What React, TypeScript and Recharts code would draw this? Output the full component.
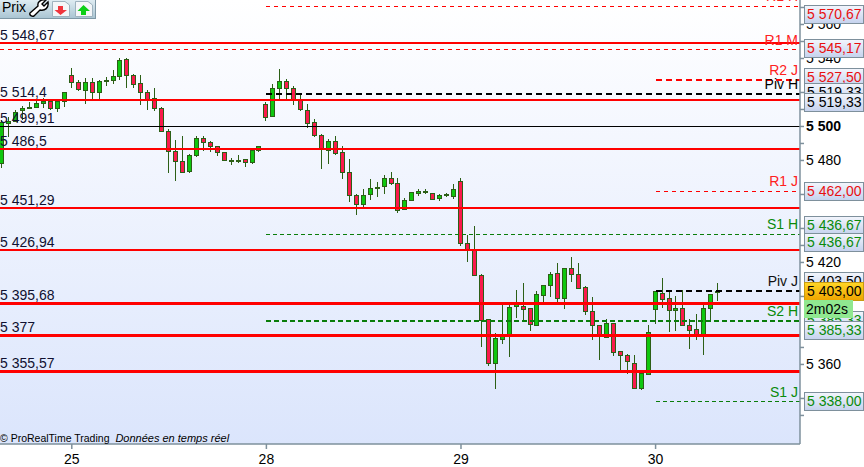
import { Bar, CartesianGrid, ComposedChart, ReferenceLine, XAxis, YAxis } from "recharts";

const OPENS = [5478.5,5501.6,5502.9,5509.4,5510.6,5511.2,5513.5,5514.7,5510.6,5514.7,5530,5525.9,5521.2,5525.9,5520,5526.2,5527.1,5529.4,5539.4,5530,5525.3,5520,5516.5,5510.6,5497.1,5485.3,5479.4,5473.5,5482.9,5492.9,5490.6,5488.2,5484.7,5479.4,5479.4,5480.6,5478.8,5485.9,
  5513.1,5505.8,5522.2,5526.6,5522.5,5515.2,5509.5,5502.5,5494.8,5485.8,5491.3,5484.8,5473.1,5459.5,5454,5459.9,5463.4,5464.6,5469.5,5466.6,5451.3,5456.4,5460.5,5461.1,5460.7,5457.5,5459.3,5458.7,
  5467.8,5431.2,5427.4,5412.5,5386.6,5360.5,5374.8,5377.2,5394.2,5394.2,5393.1,5382.8,5400.5,5406.4,5413.6,5398.7,5416.6,5413.1,5405.4,5391.3,5383.1,5375.8,5384.2,5367.8,5365.4,5360.7,5345.8,5354.2,
  5392.2,5401.9,5398.9,5391.6,5393.1,5383.1,5380.7,5377.2,5392.8,5402.2];
const HIGHS = [5503.8,5505.6,5509.7,5512.1,5514.4,5514.7,5516.8,5515.6,5516.2,5520.3,5534.4,5527.4,5528.8,5528.8,5527.6,5529.1,5533.5,5540.5,5540,5530.6,5530,5521.5,5522.9,5511.2,5498.8,5492.1,5494.1,5483.8,5494.1,5494.1,5491.5,5488.8,5485,5481.2,5483.2,5480.9,5486.2,5488.5,
  5514.4,5525,5533.8,5527.9,5523.8,5518.5,5513.2,5504.4,5495.6,5492.6,5494.4,5488.5,5480.9,5460.3,5463.2,5469.1,5467.5,5471.5,5473.2,5469.7,5457.9,5461.5,5463.2,5463.2,5460.9,5460.3,5460.9,5466.2,
  5469.7,5436.2,5441.5,5413.2,5386.8,5378.5,5395,5395,5403.8,5407.8,5393.2,5403.1,5406.8,5414.4,5419.5,5416.8,5423.1,5419.5,5406.2,5399.7,5383.2,5386.8,5384.4,5367.9,5366,5365.4,5356.8,5383.2,
  5403.2,5410.9,5403.2,5400.3,5403.8,5386.8,5389.7,5395,5401.5,5407.9];
const LOWS = [5475.6,5493.8,5502.6,5503.8,5510.6,5510.6,5510.9,5509.4,5508.8,5511.2,5522.9,5520.6,5513.5,5515.3,5515.3,5523.8,5525,5527.4,5522.4,5522.9,5512.6,5509.4,5509.1,5496.5,5472.9,5468.2,5472.6,5472.9,5481.8,5485.6,5484.7,5482.6,5480,5477.4,5478.5,5475.9,5478.2,5485,
  5503.4,5505.8,5515.6,5515.6,5512.6,5509.1,5499.1,5493.8,5475,5477.9,5483.2,5469.1,5455.6,5447.9,5452.6,5456.8,5458.5,5460.3,5465.6,5449.1,5450.9,5456.4,5459.1,5460.3,5457,5456.2,5458.4,5457.4,
  5429.7,5420.3,5412.2,5370.5,5359.3,5345.8,5372.1,5364.6,5387.4,5385,5379.9,5382.8,5396.2,5399.9,5396.8,5392.6,5408.5,5404.8,5389.1,5374.4,5362.6,5375.8,5365.2,5356.8,5354.4,5345.8,5345,5354.2,
  5383.8,5393.2,5379.1,5379.9,5382.8,5369.1,5374.4,5365.6,5386.2,5397.5];
const CLOSES = [5502.6,5502.8,5508.5,5510.6,5511.2,5513.8,5514.7,5510.6,5514.7,5520,5525.9,5521.8,5525.9,5520,5526.5,5526.8,5529.3,5539.1,5530,5524.7,5520,5515.6,5510.6,5497.1,5485.3,5479.4,5472.9,5483.2,5492.9,5490.6,5488.2,5484.7,5480,5480,5480,5478.8,5485.9,5488.2,
  5505.2,5522.5,5526.6,5522.2,5515.2,5509.7,5501.6,5494.6,5486.8,5491.3,5484,5472.8,5459.3,5454,5459.5,5463.6,5464.2,5469.5,5466.2,5450.5,5456.6,5461.3,5461.5,5461.5,5457.2,5459.5,5459.7,5463.1,
  5431.2,5427.4,5412.2,5385.8,5360.5,5375.4,5376.9,5393.6,5395,5392.2,5383.4,5401.3,5406.6,5413.1,5398.7,5416.6,5412.8,5404.8,5391.1,5382.8,5377.2,5384.2,5366.9,5365.2,5361.6,5345.8,5354.8,5378.7,
  5403.1,5398.1,5391.6,5393.1,5382.8,5379.9,5377.4,5393.1,5401.3,5403];

const DAY_TICKS = [10, 38, 66, 94];
const DAY_LABELS = ["25", "28", "29", "30"];
const PRICE_TICKS = [5330,5340,5360,5370,5400,5420,5430,5440,5460,5480,5490,5500,5510,5520,5540,5550,5560,5570];
const PRICE_LABELS = [5360, 5420, 5480, 5500, 5520, 5540, 5560];

const SUPPORT_PRICES = [5549.3, 5515.5, 5486.9, 5452.2, 5427.3, 5396, 5377.2, 5355.9];
const SUPPORT_TEXTS = ["5 548,67", "5 514,4", "5 486,5", "5 451,29", "5 426,94", "5 395,68", "5 377", "5 355,57"];
const SUPPORT_WEIGHTS = [2, 2, 2, 2, 2, 3, 3, 3];

const PIVOT_NAMES = ["R1 H", "R1 M", "R2 J", "Piv H", "R1 J", "S1 H", "Piv J", "S2 H", "S1 J"];
const PIVOT_PRICES = [5570.67, 5545.17, 5527.5, 5519.33, 5462, 5436.67, 5403.5, 5385.33, 5338];
const PIVOT_COLORS = ["#ff0000", "#ff0000", "#ff0000", "#000000", "#ff0000", "#0a7d0a", "#000000", "#0a7d0a", "#0a7d0a"];
const PIVOT_TEXT = ["#ff2020", "#ff2020", "#ff2020", "#000000", "#ff2020", "#0a8a0a", "#101010", "#0a8a0a", "#0a8a0a"];
const PIVOT_START = [38, -0.33, 94, 38, 94, 38, 94, 38, 94];
const PIVOT_WEIGHTS = [1, 1, 2, 2, 1, 1, 2, 2, 1];
const PIVOT_DASHES = ["4 4", "4 4", "6 4", "6 4", "4 4", "4 3", "6 4", "5 3", "4 3"];

// right hand price boxes, in drawing order
const TAG_TEXTS = ["5 570,67", "5 545,17", "5 527,50", "5 519,33", "5 519,33", "5 462,00", "5 436,67", "5 436,67", "5 403,50", "5 385,33", "5 385,33", "5 338,00"];
const TAG_COLORS = ["#e81010", "#e81010", "#e81010", "#000", "#000", "#e81010", "#0a8a0a", "#0a8a0a", "#000", "#0a8a0a", "#0a8a0a", "#0a8a0a"];
const TAG_CENTERS = [14.5, 48.5, 77, 92, 102.5, 191, 225, 242.5, 281, 320, 330, 401];

const rows = OPENS.map((open, i) => ({
  i,
  open,
  close: CLOSES[i],
  high: HIGHS[i],
  low: LOWS[i],
  range: [LOWS[i], HIGHS[i]],
}));

const W = 864;
const H = 467;
const AXIS = "#7e909c";
const WICK = "#2c5f16";
const FONT = '"Liberation Sans", Arial, sans-serif';

function Candle(props: any) {
  const { x, y, width, height, payload } = props;
  const unit = height / (payload.high - payload.low);
  const top = y + (payload.high - Math.max(payload.open, payload.close)) * unit;
  const bottom = y + (payload.high - Math.min(payload.open, payload.close)) * unit;
  const mid = x + width / 2;
  return (
    <g shapeRendering="crispEdges">
      <line x1={mid} x2={mid} y1={y} y2={y + height} stroke={WICK} strokeWidth={1} />
      <rect
        x={x}
        y={top}
        width={width}
        height={Math.max(bottom - top, 1)}
        fill={payload.close >= payload.open ? "#0fc70f" : "#fa1a4c"}
        stroke={WICK}
        strokeWidth={1}
      />
    </g>
  );
}

function PriceTick(props: any) {
  const { x, y, payload } = props;
  if (!PRICE_LABELS.includes(payload.value)) return null;
  const s = String(payload.value);
  return (
    <text
      x={x}
      y={y + 5}
      fontFamily={FONT}
      fontSize={14}
      fontWeight={payload.value === 5500 ? 700 : 400}
      fill="#000"
    >
      {s[0]} {s.slice(1)}
    </text>
  );
}

function Toolbar() {
  return (
    <div
      style={{
        position: "absolute",
        left: 0,
        top: 0,
        width: 95,
        height: 18,
        background: "linear-gradient(#dfecf2, #aac5d3)",
        borderRight: "1px solid #7e97a5",
        borderBottom: "1px solid #7e97a5",
        fontSize: 14,
        lineHeight: "15px",
        color: "#000",
      }}
    >
      <span style={{ position: "absolute", left: 2, top: 0 }}>Prix</span>
      <svg width={96} height={18} style={{ position: "absolute", left: 0, top: 0 }}>
        <path d="M30 13 L38 6 C37 2 41 -1 46 0 L42 4 L44 6 L48 2 C49 8 45 11 40 10 L34 16 C32 17 29 15 30 13 Z" fill="#fff" stroke="#000" strokeWidth={1.4} />
        <path d="M52.5 1.5 H65 L69.5 5 V16.5 H52.5 Z" fill="#f4f6f8" stroke="#9fb3bf" />
        <path d="M58 6 H63 V10 H67 L60.5 15 L54.5 10 H58 Z" fill="#f0353d" />
        <path d="M75.5 1.5 H88 L92.5 5 V16.5 H75.5 Z" fill="#f4f6f8" stroke="#9fb3bf" />
        <path d="M81 15 H86 V11 H90 L83.5 5 L77.5 11 H81 Z" fill="#0ccf17" />
      </svg>
    </div>
  );
}

function PriceTag({ text, color, center }: { text: string; color: string; center: number }) {
  return (
    <div
      style={{
        position: "absolute",
        left: 804,
        top: center - 9.5,
        width: 56,
        height: 17,
        border: `1px solid ${AXIS}`,
        background: "linear-gradient(#f2f5fc, #c6d3ee)",
        color,
        fontSize: 14,
        lineHeight: "17px",
        paddingLeft: 2,
        whiteSpace: "nowrap",
      }}
    >
      {text}
    </div>
  );
}

export default function App() {
  return (
    <div style={{ position: "absolute", left: 0, top: 0, width: W, height: H, overflow: "hidden", background: "#fff", fontFamily: FONT }}>
      <ComposedChart width={W} height={H} data={rows} margin={{ top: 0, right: 0, bottom: 0, left: 0 }} barCategoryGap={0}>
        <defs>
          <linearGradient id="plotBg" x1="0" y1="0" x2="0" y2="1">
            <stop offset="0%" stopColor="#ffffff" />
            <stop offset="100%" stopColor="#dbe5fc" />
          </linearGradient>
        </defs>
        <CartesianGrid horizontal={false} vertical={false} fill="url(#plotBg)" />
        <XAxis
          dataKey="i"
          type="number"
          domain={[-0.33, 114.78]}
          allowDataOverflow
          ticks={DAY_TICKS}
          tickFormatter={(v: number) => DAY_LABELS[DAY_TICKS.indexOf(v)]}
          height={23}
          stroke={AXIS}
          strokeWidth={1.5}
          tickSize={5}
          tickMargin={5}
          tick={{ fontSize: 14, fontFamily: FONT, fill: "#000" }}
        />
        <YAxis
          orientation="right"
          type="number"
          domain={[5313.2, 5574.4]}
          allowDataOverflow
          ticks={PRICE_TICKS}
          width={64}
          stroke={AXIS}
          strokeWidth={1.5}
          tickSize={4}
          tickMargin={2}
          interval={0}
          tick={<PriceTick />}
        />
        <Bar dataKey="range" barSize={4} shape={<Candle />} isAnimationActive={false} />
        <ReferenceLine y={5500} stroke="#000" strokeWidth={1} shapeRendering="crispEdges" />
        {SUPPORT_PRICES.map((price, k) => (
          <ReferenceLine
            key={price}
            y={price}
            stroke="#ff0000"
            strokeWidth={SUPPORT_WEIGHTS[k]}
            shapeRendering="crispEdges"
            label={{ value: SUPPORT_TEXTS[k], position: "insideBottomLeft", offset: 0, dy: -3, fontSize: 14, fontFamily: FONT, fill: "#101030" }}
          />
        ))}
        <ReferenceLine
          y={5500}
          strokeOpacity={0}
          label={{ value: "5 499,91", position: "insideBottomLeft", offset: 0, dy: -3, fontSize: 14, fontFamily: FONT, fill: "#101030" }}
        />
        {PIVOT_PRICES.map((price, k) => (
          <ReferenceLine
            key={PIVOT_NAMES[k]}
            segment={[
              { x: PIVOT_START[k], y: price },
              { x: 114.78, y: price },
            ]}
            stroke={PIVOT_COLORS[k]}
            strokeWidth={PIVOT_WEIGHTS[k]}
            strokeDasharray={PIVOT_DASHES[k]}
            shapeRendering="crispEdges"
            label={{ value: PIVOT_NAMES[k], position: "insideBottomRight", offset: 2, dy: -3, fontSize: 14, fontFamily: FONT, fill: PIVOT_TEXT[k] }}
          />
        ))}
      </ComposedChart>
      <Toolbar />
      {TAG_TEXTS.map((text, k) => (
        <PriceTag key={k} text={text} color={TAG_COLORS[k]} center={TAG_CENTERS[k]} />
      ))}
      <div
        style={{
          position: "absolute",
          left: 804,
          top: 281.5,
          width: 56,
          height: 17,
          border: "1px solid #c79a10",
          background: "linear-gradient(#ffd526, #eea500)",
          fontSize: 14,
          lineHeight: "17px",
          paddingLeft: 2,
          color: "#000",
        }}
      >
        5 403,00
      </div>
      <div
        style={{
          position: "absolute",
          left: 804,
          top: 300,
          width: 47,
          height: 18,
          background: "#90e890",
          fontSize: 14,
          lineHeight: "18px",
          paddingLeft: 2,
          color: "#000",
        }}
      >
        2m02s
      </div>
      <div style={{ position: "absolute", left: 0, top: 431, fontSize: 10.5, lineHeight: "14px", color: "#000", whiteSpace: "nowrap" }}>
        © ProRealTime Trading <i style={{ marginLeft: 3, fontSize: 11 }}>Données en temps réel</i>
      </div>
    </div>
  );
}
